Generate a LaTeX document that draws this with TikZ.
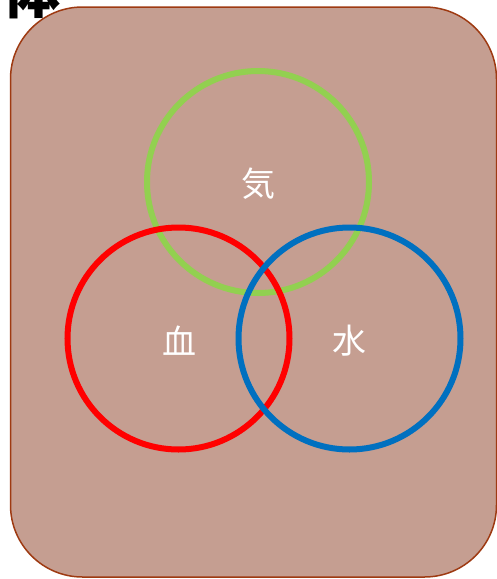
\documentclass[tikz,border=0pt]{standalone}
\usepackage{fontspec}
\newfontfamily\cjk{Noto Sans CJK JP}
\definecolor{bodyfill}{HTML}{C59E91}
\definecolor{bodyline}{HTML}{9E3A12}
\definecolor{kigreen}{HTML}{92D050}
\definecolor{ketsured}{HTML}{FF0000}
\definecolor{suiblue}{HTML}{0070C0}
\tikzset{
  ring/.style={draw, line width=6pt, circle, minimum size=222pt, inner sep=0pt},
  lbl/.style={text=white, font=\cjk\fontsize{34}{34}\selectfont, inner sep=0pt}
}
\begin{document}
\begin{tikzpicture}[x=1pt,y=-1pt]
\useasboundingbox (0,0) rectangle (497,579);
\clip (0,0) rectangle (497,579);
\node[draw=bodyline, fill=bodyfill, line width=1.5pt, rounded corners=72pt,
  minimum width=486pt, minimum height=570pt, inner sep=0pt] (body) at (253.5,292) {};
\node[font=\cjk\bfseries\fontsize{58}{58}\selectfont, inner sep=0pt] (tai) at (31,-8) {体};
\node[ring, draw=kigreen] (ki) at (258,182) {};
\node[ring, draw=ketsured] (ketsu) at (178.5,338.5) {};
\node[ring, draw=suiblue] (sui) at (349.5,338.5) {};
\node[lbl] (kit) at (258,184) {気};
\node[lbl] (ketsut) at (179,341) {血};
\node[lbl] (suit) at (349,341) {水};
\end{tikzpicture}
\end{document}
